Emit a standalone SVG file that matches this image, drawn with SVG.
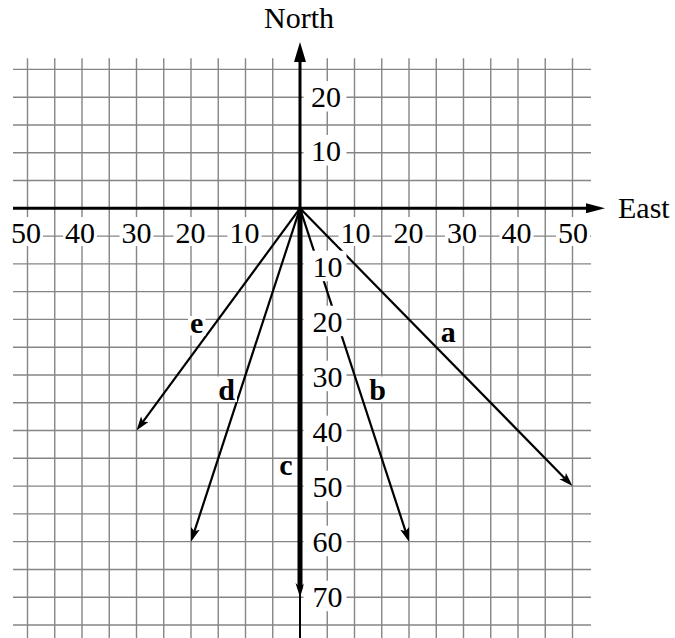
<svg xmlns="http://www.w3.org/2000/svg" width="675" height="638" viewBox="0 0 675 638">
<style>
.grid{stroke:#858585;stroke-width:1.4;fill:none}
.axis{stroke:#000;stroke-width:3;fill:none}
.vec{stroke:#000;stroke-width:2.2;fill:none}
.bg{fill:#fff}
.num{font-family:"Liberation Serif","Times New Roman",serif;font-size:30px;fill:#000;text-anchor:middle}
.ttl{font-family:"Liberation Serif","Times New Roman",serif;font-size:30px;fill:#000}
.let{font-family:"Liberation Serif","Times New Roman",serif;font-size:30px;font-weight:bold;fill:#000;text-anchor:middle}
</style>
<defs>
<marker id="ah" markerUnits="userSpaceOnUse" markerWidth="20" markerHeight="14" viewBox="-8 -7 20 14" refX="0" refY="0" orient="auto">
<path d="M8,0 L-6,-4.6 L-3,0 L-6,4.6 Z" fill="#000"/>
</marker>
</defs>
<rect width="675" height="638" fill="#fff"/>
<g id="grid" class="grid">
<path d="M13,69.4H591M13,97.18H591M13,124.96H591M13,152.74H591M13,180.52H591M13,236.08H591M13,263.86H591M13,291.64H591M13,319.42H591M13,347.2H591M13,374.98H591M13,402.76H591M13,430.54H591M13,458.32H591M13,486.1H591M13,513.88H591M13,541.66H591M13,569.44H591M13,597.22H591M13,625H591"/>
<path d="M27.5,58.3V638M54.75,58.3V638M82,58.3V638M109.25,58.3V638M136.5,58.3V638M163.75,58.3V638M191,58.3V638M218.25,58.3V638M245.5,58.3V638M272.75,58.3V638M327.25,58.3V638M354.5,58.3V638M381.75,58.3V638M409,58.3V638M436.25,58.3V638M463.5,58.3V638M490.75,58.3V638M518,58.3V638M545.25,58.3V638M572.5,58.3V638"/>
</g>
<g id="axes">
<line class="axis" x1="13" y1="208.3" x2="588" y2="208.3"/>
<polygon points="605,208.3 586,203.3 586,213.3" fill="#000"/>
<line class="axis" x1="300" y1="208.3" x2="300" y2="59"/>
<polygon points="300,42 294,62 306,62" fill="#000"/>
<line x1="300" y1="590" x2="300" y2="638" stroke="#000" stroke-width="2"/>
<text class="ttl" x="299" y="28.3" text-anchor="middle">North</text>
<text class="ttl" x="618" y="218.3">East</text>
</g>
<g id="connectors">
<line id="vec-a" class="vec" x1="300" y1="208.3" x2="566.9" y2="480.4" marker-end="url(#ah)"/>
<line id="vec-b" class="vec" x1="300" y1="208.3" x2="406.5" y2="534.1" marker-end="url(#ah)"/>
<line id="vec-d" class="vec" x1="300" y1="208.3" x2="193.5" y2="534.1" marker-end="url(#ah)"/>
<line id="vec-e" class="vec" x1="300" y1="208.3" x2="141.2" y2="424.1" marker-end="url(#ah)"/>
<g id="vec-c">
<line x1="300" y1="208.3" x2="300" y2="587" stroke="#000" stroke-width="5"/>
<polygon points="295.5,583 300,587 304.5,583 300,597.2" fill="#000"/>
</g>
</g>
<g id="north-labels">
<g id="n20"><rect class="bg" x="303.5" y="81" width="43" height="30.5"/><text class="num" x="326" y="106.7">20</text></g>
<g id="n10"><rect class="bg" x="303.5" y="135" width="43" height="30.5"/><text class="num" x="326" y="160.5">10</text></g>
</g>
<g id="south-labels">
<g id="s10"><rect class="bg" x="303.5" y="250.7" width="43" height="30.5"/><text class="num" x="327.5" y="276.7">10</text></g>
<g id="s20"><rect class="bg" x="303.5" y="305.7" width="43" height="30.5"/><text class="num" x="327.5" y="331.7">20</text></g>
<g id="s30"><rect class="bg" x="303.5" y="360.7" width="43" height="30.5"/><text class="num" x="327.5" y="386.7">30</text></g>
<g id="s40"><rect class="bg" x="303.5" y="415.7" width="43" height="30.5"/><text class="num" x="327.5" y="441.7">40</text></g>
<g id="s50"><rect class="bg" x="303.5" y="470.7" width="43" height="30.5"/><text class="num" x="327.5" y="496.7">50</text></g>
<g id="s60"><rect class="bg" x="303.5" y="525.7" width="43" height="30.5"/><text class="num" x="327.5" y="551.7">60</text></g>
<g id="s70"><rect class="bg" x="303.5" y="580.7" width="43" height="30.5"/><text class="num" x="327.5" y="606.7">70</text></g>
</g>
<g id="west-labels">
<g id="w50"><rect class="bg" x="9" y="217" width="34" height="29"/><text class="num" x="26" y="243.3">50</text></g>
<g id="w40"><rect class="bg" x="63" y="217" width="34" height="29"/><text class="num" x="80" y="243.3">40</text></g>
<g id="w30"><rect class="bg" x="119.5" y="217" width="34" height="29"/><text class="num" x="136.5" y="243.3">30</text></g>
<g id="w20"><rect class="bg" x="173.5" y="217" width="34" height="29"/><text class="num" x="190.5" y="243.3">20</text></g>
<g id="w10"><rect class="bg" x="227.5" y="217" width="34" height="29"/><text class="num" x="244.5" y="243.3">10</text></g>
</g>
<g id="east-labels">
<g id="e10"><rect class="bg" x="338.5" y="217" width="34" height="29"/><text class="num" x="355.5" y="243.3">10</text></g>
<g id="e20"><rect class="bg" x="391.5" y="217" width="34" height="29"/><text class="num" x="408.5" y="243.3">20</text></g>
<g id="e30"><rect class="bg" x="445" y="217" width="34" height="29"/><text class="num" x="462" y="243.3">30</text></g>
<g id="e40"><rect class="bg" x="499.5" y="217" width="34" height="29"/><text class="num" x="516.5" y="243.3">40</text></g>
<g id="e50"><rect class="bg" x="556" y="217" width="34" height="29"/><text class="num" x="573" y="243.3">50</text></g>
</g>
<g id="label-a"><text class="let" x="448.3" y="341.7">a</text></g>
<g id="label-b"><rect class="bg" x="368" y="376.5" width="19" height="25.5"/><text class="let" x="377.5" y="400">b</text></g>
<g id="label-c"><rect class="bg" x="277.5" y="459.5" width="17" height="18"/><text class="let" x="286" y="475">c</text></g>
<g id="label-d"><rect class="bg" x="216.5" y="376.5" width="20.5" height="25.5"/><text class="let" x="226.7" y="400">d</text></g>
<g id="label-e"><rect class="bg" x="188" y="316" width="17.5" height="19.5"/><text class="let" x="196.7" y="333.3">e</text></g>
</svg>
